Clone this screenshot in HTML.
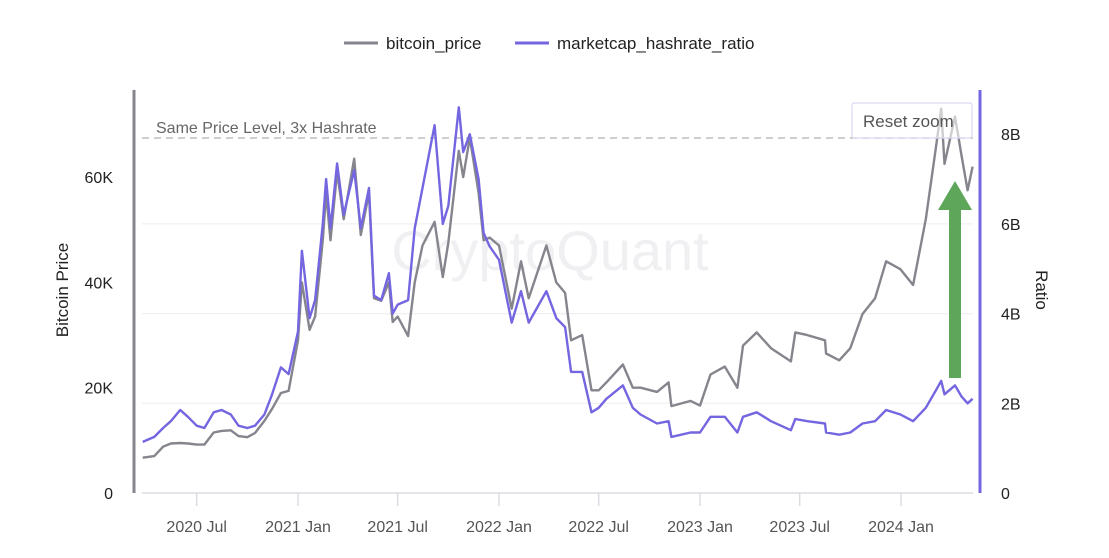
<!DOCTYPE html>
<html><head><meta charset="utf-8"><style>
html,body{margin:0;padding:0;background:#fff;}
svg{display:block;font-family:"Liberation Sans",sans-serif;}
</style></head><body>
<svg id="chart" width="1109" height="558" viewBox="0 0 1109 558">
<g>
 <g>
  <line x1="344" y1="43" x2="378" y2="43" stroke="#85858d" stroke-width="3"/>
  <text x="386" y="49" font-size="17" fill="#222">bitcoin_price</text>
 </g>
 <g>
  <line x1="515" y1="43" x2="549" y2="43" stroke="#7466e0" stroke-width="3"/>
  <text x="557" y="49" font-size="17" fill="#222">marketcap_hashrate_ratio</text>
 </g>
</g>
<text x="550" y="270" font-size="56" fill="#f0f0f3" text-anchor="middle">CryptoQuant</text>
<g id="grid"></g>
<line x1="142" y1="138" x2="973" y2="138" stroke="#bbbbc2" stroke-width="1.5" stroke-dasharray="7,5"/>
<text x="156" y="133" font-size="16" fill="#666">Same Price Level, 3x Hashrate</text>
<g id="series"></g>
<g id="axes"></g>
<g>
 <rect x="852" y="103" width="120" height="35" rx="2" fill="rgba(255,255,255,0.6)" stroke="#dcd9f3" stroke-width="1.2"/>
 <text x="863" y="127" font-size="17" fill="#555">Reset zoom</text>
</g>
<g>
 <rect x="949" y="208" width="12" height="170" fill="#5ea65a"/>
 <polygon points="938,210 955,181 972,210" fill="#5ea65a"/>
</g>
<text transform="translate(68,290) rotate(-90)" font-size="17" fill="#222" text-anchor="middle">Bitcoin Price</text>
<text transform="translate(1036,290) rotate(90)" font-size="17" fill="#222" text-anchor="middle">Ratio</text>
</svg>
<script>
const dates=["2020-03-25","2020-04-15","2020-05-01","2020-05-15","2020-06-01","2020-06-15","2020-07-01","2020-07-15","2020-08-01","2020-08-15","2020-09-01","2020-09-15","2020-10-01","2020-10-15","2020-11-01","2020-11-15","2020-12-01","2020-12-15","2021-01-01","2021-01-08","2021-01-22","2021-02-01","2021-02-15","2021-02-21","2021-03-01","2021-03-13","2021-03-25","2021-04-13","2021-04-25","2021-05-10","2021-05-19","2021-06-01","2021-06-15","2021-06-22","2021-07-01","2021-07-20","2021-08-01","2021-08-15","2021-09-06","2021-09-21","2021-10-01","2021-10-20","2021-10-28","2021-11-09","2021-11-25","2021-12-04","2021-12-15","2022-01-01","2022-01-24","2022-02-10","2022-02-24","2022-03-28","2022-04-15","2022-05-01","2022-05-12","2022-06-01","2022-06-18","2022-07-01","2022-07-15","2022-08-14","2022-09-01","2022-09-15","2022-10-15","2022-11-05","2022-11-10","2022-12-15","2023-01-01","2023-01-20","2023-02-15","2023-03-10","2023-03-20","2023-04-14","2023-05-10","2023-06-15","2023-06-23","2023-07-15","2023-08-16","2023-08-18","2023-09-11","2023-10-01","2023-10-23","2023-11-15","2023-12-05","2023-12-31","2024-01-23","2024-02-15","2024-03-05","2024-03-14","2024-03-20","2024-04-08","2024-04-20","2024-05-01","2024-05-10"];
const bitcoinPrice=[6.7,7.0,8.8,9.4,9.5,9.4,9.2,9.2,11.5,11.8,11.9,10.8,10.6,11.4,13.7,16.0,19.0,19.4,29.0,40.0,31.0,33.5,48.0,57.0,48.0,61.0,52.0,63.5,49.0,57.0,37.0,36.5,40.0,32.5,33.5,29.8,40.0,47.0,51.5,41.0,47.5,65.0,60.0,67.5,57.0,48.0,48.5,47.0,35.0,44.0,37.0,47.0,40.0,38.0,29.0,30.0,19.5,19.5,21.0,24.4,20.0,20.0,19.2,21.0,16.5,17.5,16.6,22.5,24.0,20.0,28.0,30.5,27.5,25.0,30.5,30.0,29.0,26.5,25.2,27.5,34.0,37.0,44.0,42.5,39.5,52.0,66.0,73.0,62.5,71.5,64.0,57.5,62.0];
const ratio=[1.14,1.25,1.45,1.6,1.85,1.7,1.5,1.45,1.8,1.85,1.75,1.5,1.45,1.5,1.75,2.2,2.8,2.65,3.6,5.4,3.9,4.3,6.0,7.0,5.9,7.35,6.2,7.2,5.9,6.8,4.4,4.3,4.9,4.0,4.2,4.3,5.9,6.8,8.2,6.0,6.4,8.6,7.6,8.0,7.0,5.8,5.5,5.2,3.8,4.5,3.8,4.5,3.9,3.7,2.7,2.7,1.8,1.9,2.1,2.4,1.9,1.75,1.55,1.6,1.25,1.35,1.35,1.7,1.7,1.35,1.7,1.8,1.6,1.4,1.65,1.6,1.55,1.35,1.3,1.35,1.55,1.6,1.85,1.75,1.6,1.9,2.3,2.5,2.2,2.4,2.15,2.0,2.1];
const xTickLabels=["2020 Jul","2021 Jan","2021 Jul","2022 Jan","2022 Jul","2023 Jan","2023 Jul","2024 Jan"];
const xTickDates=["2020-07-01","2021-01-01","2021-07-01","2022-01-01","2022-07-01","2023-01-01","2023-07-01","2024-01-01"];
const leftTicks=[0,20,40,60];
const leftTickLabels=["0","20K","40K","60K"];
const rightTicks=[0,2,4,6,8];
const rightTickLabels=["0","2B","4B","6B","8B"];

const NS="http://www.w3.org/2000/svg";
const t0=Date.parse("2021-01-01"),t1=Date.parse("2024-01-01");
function xScale(d){return 298+(Date.parse(d)-t0)/(t1-t0)*(901-298);}
function yLeft(v){return 493-v*105.3/20;}
function yRight(v){return 493-v*89.7/2;}
function mk(tag,attrs,parent){const e=document.createElementNS(NS,tag);for(const k in attrs)e.setAttribute(k,attrs[k]);parent.appendChild(e);return e;}
const grid=document.getElementById('grid'),axes=document.getElementById('axes'),series=document.getElementById('series');
rightTicks.forEach((v,i)=>{
 if(v>0&&v<8){const g=mk('line',{x1:142,x2:973,y1:yRight(v),y2:yRight(v),stroke:'#f0f0f2','stroke-width':1.2},grid);
 
 }
 const t=mk('text',{x:1001,y:yRight(v)+6,'font-size':16,fill:'#222'},axes);t.textContent=rightTickLabels[i];
 
 
});
leftTicks.forEach((v,i)=>{
 const t=mk('text',{x:113,y:yLeft(v)+6,'font-size':16,fill:'#222','text-anchor':'end'},axes);t.textContent=leftTickLabels[i];
 
 
});
const xl=mk('line',{x1:142,x2:973,y1:493,y2:493,stroke:'#dcdce2','stroke-width':1.5},axes);


xTickDates.forEach((d,i)=>{
 const x=xScale(d);
 const tk=mk('line',{x1:x,x2:x,y1:493,y2:506,stroke:'#dcdce2','stroke-width':1.5},axes);
 
 
 const t=mk('text',{x:x,y:532,'font-size':16,fill:'#555','text-anchor':'middle'},axes);t.textContent=xTickLabels[i];
 
 
});
const la=mk('line',{x1:134,x2:134,y1:90,y2:493,stroke:'#85858d','stroke-width':3},axes);


const ra=mk('line',{x1:980,x2:980,y1:90,y2:493,stroke:'#7466e0','stroke-width':3},axes);


const pp=dates.map((d,i)=>xScale(d).toFixed(1)+','+yLeft(bitcoinPrice[i]).toFixed(1)).join(' ');
const p1=mk('polyline',{points:pp,fill:'none',stroke:'#85858d','stroke-width':2.4,'stroke-linejoin':'round'},series);


const rp=dates.map((d,i)=>xScale(d).toFixed(1)+','+yRight(ratio[i]).toFixed(1)).join(' ');
const p2=mk('polyline',{points:rp,fill:'none',stroke:'#7466e0','stroke-width':2.4,'stroke-linejoin':'round'},series);


</script>
</body></html>
